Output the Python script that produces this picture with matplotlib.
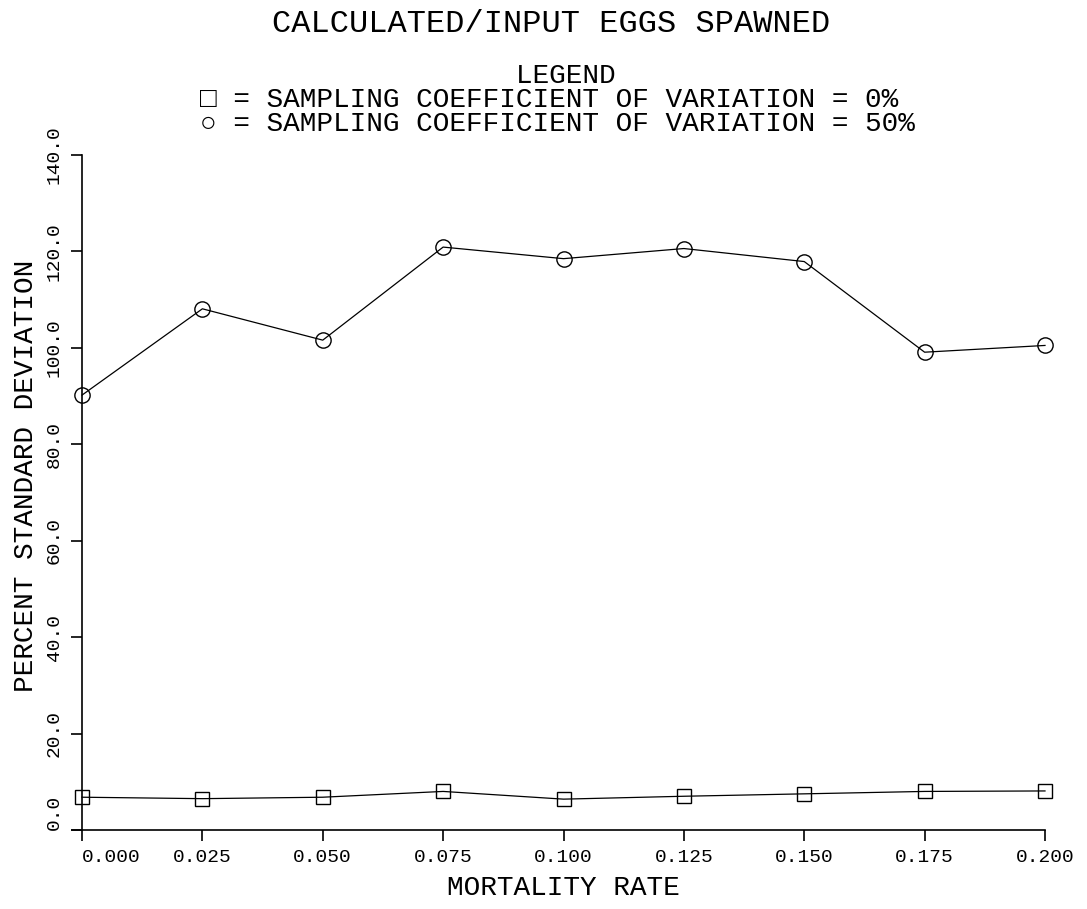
import matplotlib
matplotlib.use("Agg")
import matplotlib.pyplot as plt
from matplotlib.ticker import FormatStrFormatter

mortality = [0.000, 0.025, 0.050, 0.075, 0.100, 0.125, 0.150, 0.175, 0.200]
cv0 = [6.8, 6.5, 6.8, 8.0, 6.4, 7.0, 7.5, 8.0, 8.1]
cv50 = [90.2, 108.1, 101.6, 120.9, 118.5, 120.6, 117.9, 99.1, 100.5]
xticks = [0.000, 0.025, 0.050, 0.075, 0.100, 0.125, 0.150, 0.175, 0.200]
yticks = [0, 20, 40, 60, 80, 100, 120, 140]
legend_lines = [
    " " * 19 + "LEGEND",
    "\u25a1 = SAMPLING COEFFICIENT OF VARIATION = 0%",
    "\u25cb = SAMPLING COEFFICIENT OF VARIATION = 50%",
]

fam = ["Liberation Mono", "DejaVu Sans"]
plt.rcParams["font.family"] = fam

W, H = 1087, 909
fig = plt.figure(figsize=(W / 100, H / 100), dpi=100)
ax = fig.add_axes([82 / W, 1 - 830 / H, (1045 - 82) / W, (830 - 155) / H])

ax.plot(mortality, cv0, color="black", linewidth=0.9, marker="s",
        markersize=10, markerfacecolor="none", markeredgecolor="black",
        markeredgewidth=1.0, clip_on=False)
ax.plot(mortality, cv50, color="black", linewidth=0.9, marker="o",
        markersize=11, markerfacecolor="none", markeredgecolor="black",
        markeredgewidth=1.0, clip_on=False)

ax.set_xlim(0, 0.2)
ax.set_ylim(0, 140)
ax.set_xticks(xticks)
ax.set_yticks(yticks)
ax.xaxis.set_major_formatter(FormatStrFormatter("%.3f"))
ax.yaxis.set_major_formatter(FormatStrFormatter("%.1f"))
for s in ["top", "right"]:
    ax.spines[s].set_visible(False)
for s in ["left", "bottom"]:
    ax.spines[s].set_linewidth(1.2)
# the plotted x axis pokes a little past the y axis
ax.spines["bottom"].set_bounds(-0.002, 0.2)
ax.tick_params(axis="both", direction="out", length=8, width=1.2,
               labelsize=14, pad=6)
plt.setp(ax.get_yticklabels(), rotation=90, va="center")
# first labels are nudged off the corner, as on the original
ax.get_xticklabels()[0].set_ha("left")
ax.get_yticklabels()[0].set_va("bottom")

ax.set_xlabel("MORTALITY RATE", fontsize=20, labelpad=6)
ax.set_ylabel("PERCENT STANDARD DEVIATION", fontsize=20)
ax.yaxis.set_label_coords(-0.045, 0.524)

fig.text(551 / W, 1 - 24 / H, "CALCULATED/INPUT EGGS SPAWNED",
         fontsize=23, ha="center", va="center")
fig.text(200 / W, 1 - 100 / H, "\n".join(legend_lines), fontsize=20,
         ha="left", va="center", multialignment="left", linespacing=0.92)

fig.savefig("out.png", dpi=100)
